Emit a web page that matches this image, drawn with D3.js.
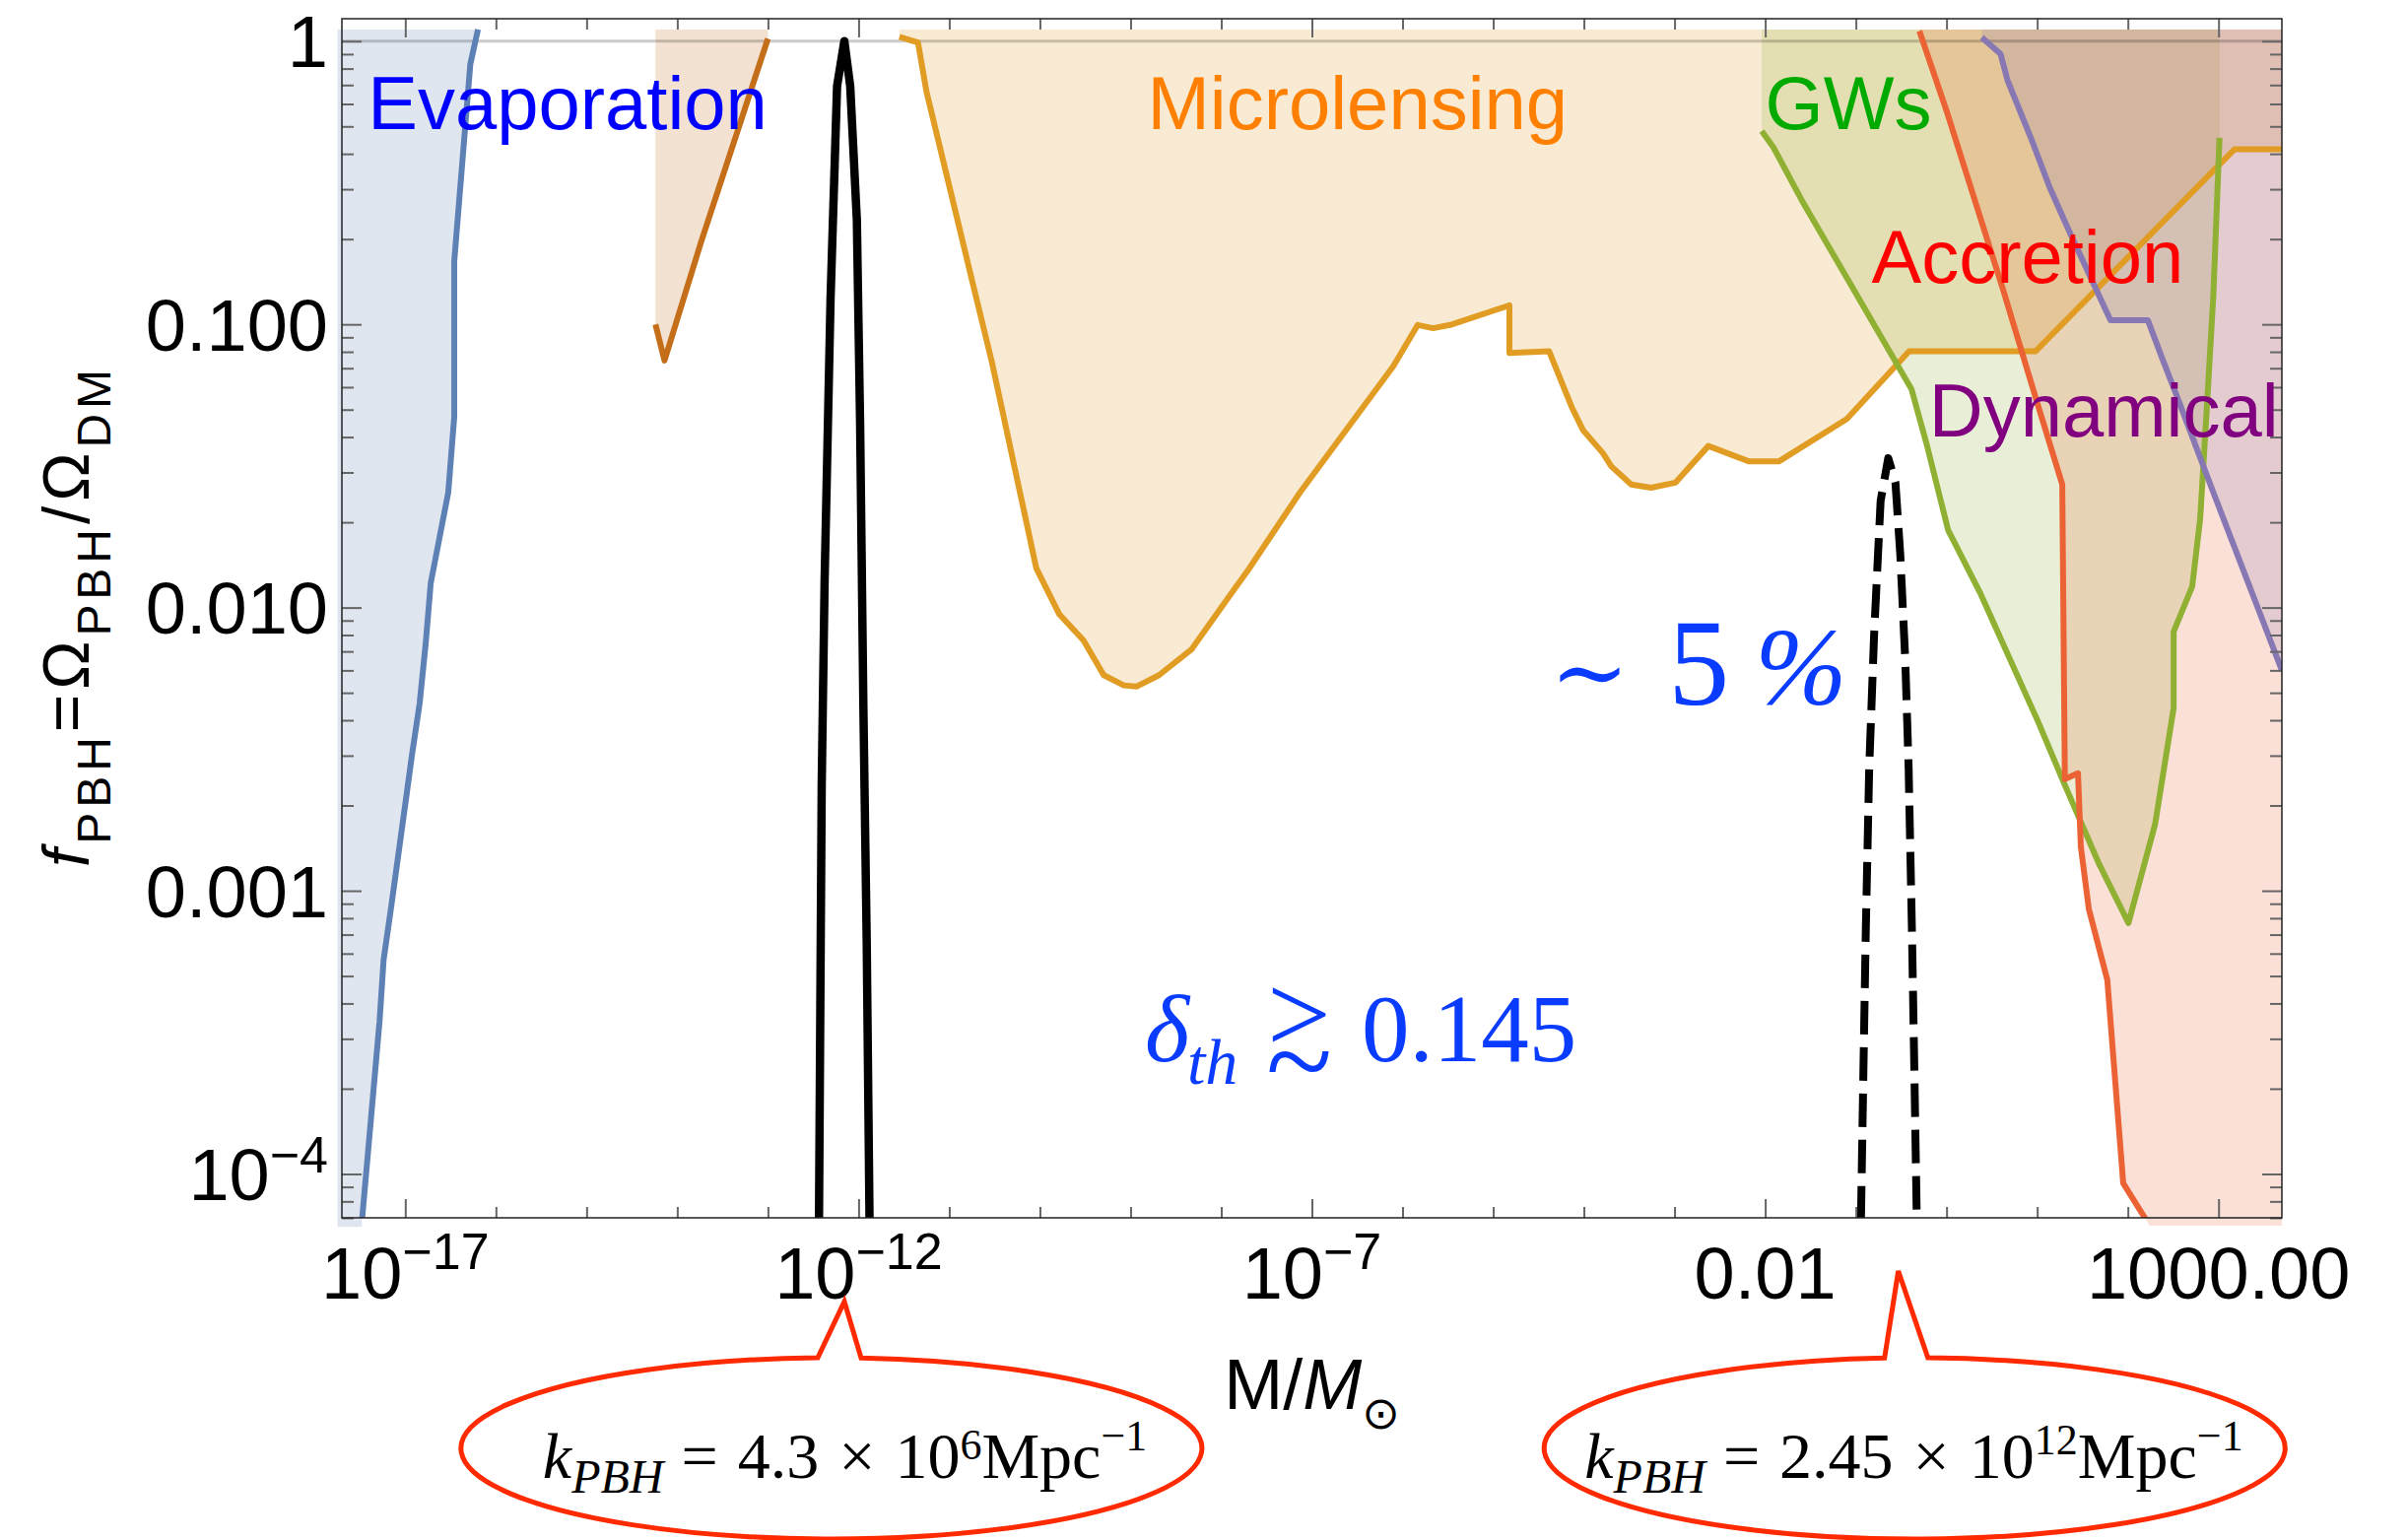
<!DOCTYPE html>
<html>
<head>
<meta charset="utf-8">
<title>PBH abundance constraints</title>
<script src="https://cdn.jsdelivr.net/npm/d3@7/dist/d3.min.js"></script>
<style>
  html, body { margin: 0; padding: 0; background: #ffffff; }
  svg { display: block; }
</style>
</head>
<body>
<svg id="chart" width="2444" height="1563"></svg>
<script>
// ---------------- data ----------------
// Axis ranges: PBH mass in solar masses, abundance f_PBH
const massDomain = [2e-18, 5e3];
const fDomain = [7e-5, 1.2];
// Extent of the shaded exclusion regions
const shadeTop = 1.1, shadeBottom = 6.5e-5, shadeLeft = 1.78e-18;

// Evaporation bound (from its lowest point upward)
const evaporationM = [3.32e-18, 5.21e-18, 5.77e-18, 7.05e-18, 1.00e-17, 1.19e-17, 1.44e-17, 1.68e-17, 1.91e-17, 2.98e-17, 3.47e-17, 3.47e-17, 5.22e-17, 6.34e-17];
const evaporationF = [6.76e-5, 3.47e-4, 5.70e-4, 8.93e-4, 2.02e-3, 3.04e-3, 4.58e-3, 7.46e-3, 1.22e-2, 2.55e-2, 4.72e-2, 0.167, 0.83, 1.1];

// Femtolensing-type bound near 1e-14
const femtoM = [5.75e-15, 7.24e-15, 1.82e-14, 1.0e-13];
const femtoF = [0.1, 0.0745, 0.194, 1.02];

// Microlensing bound
const microM = [2.82e-12, 4.52e-12, 5.61e-12, 1.07e-11, 1.77e-11, 2.94e-11, 6.03e-11, 9.12e-11, 1.64e-10, 3.03e-10, 5.06e-10, 8.43e-10, 1.16e-9, 2.06e-9, 4.73e-9, 1.40e-8, 1.93e-8, 7.40e-8, 7.93e-7, 1.47e-6, 2.17e-6, 3.34e-6, 1.51e-5, 1.51e-5, 4.14e-5, 7.35e-5, 9.79e-5, 1.62e-4, 2.01e-4, 3.33e-4, 5.50e-4, 1.02e-3, 2.36e-3, 6.65e-3, 1.41e-2, 7.94e-2, 0.387, 9.57, 1496, 5000];
const microF = [1.035, 0.99, 0.663, 0.282, 0.1445, 0.0741, 0.0255, 0.01377, 0.00946, 0.00765, 0.00577, 0.00531, 0.00526, 0.00577, 0.00713, 0.01164, 0.0134, 0.0255, 0.0713, 0.0995, 0.0969, 0.0995, 0.1167, 0.0793, 0.0803, 0.0510, 0.0423, 0.0351, 0.0315, 0.0272, 0.0265, 0.0276, 0.0372, 0.0328, 0.0328, 0.0463, 0.0803, 0.0803, 0.415, 0.415];

// Gravitational-wave bound
const gwM = [9.16e-3, 1.236e-2, 2.52e-2, 0.411, 0.607, 1.04, 2.33, 10.28, 18.9, 48.3, 101.6, 200, 320, 320, 513, 628, 759, 877, 1026];
const gwF = [0.481, 0.421, 0.275, 0.059, 0.0375, 0.0188, 0.01133, 0.00394, 0.00248, 0.00124, 7.69e-4, 0.00172, 0.00442, 0.00822, 0.01188, 0.0206, 0.0568, 0.1265, 0.456];

// Accretion bound
const accretionM = [0.502, 1.005, 4.18, 10.2, 18.9, 20.2, 28.2, 30.3, 37.1, 59.3, 88.9, 174.6];
const accretionF = [1.086, 0.565, 0.1334, 0.0518, 0.0272, 0.00248, 0.0026, 0.00143, 8.63e-4, 4.85e-4, 9.27e-5, 6.56e-5];

// Dynamical bound
const dynamicalM = [2.45, 3.94, 4.71, 8.51, 13.7, 22.1, 64.3, 166, 238, 340, 877, 5000];
const dynamicalF = [1.03, 0.901, 0.727, 0.456, 0.305, 0.216, 0.1035, 0.1035, 0.0762, 0.0568, 0.0255, 0.006];

// PBH mass functions
const massFnSolidM = [3.66e-13, 3.92e-13, 4.22e-13, 4.91e-13, 5.79e-13, 6.97e-13, 8.09e-13, 9.57e-13, 1.04e-12, 1.13e-12, 1.23e-12, 1.32e-12];
const massFnSolidF = [7e-5, 2.355e-3, 0.0124, 0.1236, 0.693, 1.0, 0.693, 0.2344, 0.0447, 4.46e-3, 6.56e-4, 7e-5];
const massFnDashedM = [0.1138, 0.1216, 0.1288, 0.1403, 0.159, 0.1875, 0.2275, 0.273, 0.309, 0.351, 0.382, 0.415, 0.44, 0.47];
const massFnDashedF = [6.9e-5, 2.49e-4, 7.36e-4, 2.71e-3, 8.04e-3, 0.0238, 0.0337, 0.0277, 0.0154, 6.47e-3, 2.71e-3, 7.36e-4, 2.49e-4, 6.9e-5];

// Ticks
const xMajorTicks = [1e-17, 1e-12, 1e-7, 1e-2, 1e3];
const xTickBase = ["10", "10", "10", "0.01", "1000.00"];
const xTickExp = ["\u221217", "\u221212", "\u22127", "", ""];
const yMajorTicks = [1, 0.1, 0.01, 0.001, 1e-4];
const yTickBase = ["1", "0.100", "0.010", "0.001", "10"];
const yTickExp = ["", "", "", "", "\u22124"];

// Region names and where they are written (data coordinates of the text start)
const regionNames = ["Evaporation", "Microlensing", "GWs", "Accretion", "Dynamical"];
const regionNameM = [3.86e-18, 1.53e-9, 0.01, 0.1486, 0.641];
const regionNameF = [0.49, 0.49, 0.49, 0.1407, 0.0402];
const regionNameColor = ["#0000ff", "#ff8000", "#00aa00", "#ff0000", "#800080"];

// Wavenumbers written in the two callouts
const calloutMantissa = ["4.3", "2.45"];
const calloutExponent = ["6", "12"];

// ---------------- layout ----------------
const SANS = "'Liberation Sans', Arial, Helvetica, sans-serif";
const SERIF = "'Liberation Serif', 'Times New Roman', Times, serif";
const plot = { left: 347, right: 2316, top: 19, bottom: 1236 };

const svg = d3.select("#chart");
svg.append("rect").attr("width", 2444).attr("height", 1563).attr("fill", "#ffffff");

const x = d3.scaleLog().domain(massDomain).range([plot.left, plot.right]);
const y = d3.scaleLog().domain(fDomain).range([plot.bottom, plot.top]);

const defs = svg.append("defs");
defs.append("clipPath").attr("id", "clip-plot").append("rect")
  .attr("x", plot.left).attr("y", plot.top)
  .attr("width", plot.right - plot.left).attr("height", plot.bottom - plot.top);
defs.append("clipPath").attr("id", "clip-shade").append("rect")
  .attr("x", x(shadeLeft)).attr("y", y(shadeTop))
  .attr("width", plot.right - x(shadeLeft)).attr("height", y(shadeBottom) - y(shadeTop));

const zip = (M, F) => M.map((m, i) => [m, F[i]]);
const line = d3.line().x(d => x(d[0])).y(d => y(d[1]));

const regions = [
  { M: evaporationM, F: evaporationF, color: "#5e81b5", close: "left" },
  { M: femtoM, F: femtoF, color: "#c56e1a", close: "top" },
  { M: microM, F: microF, color: "#e19c24", close: "top" },
  { M: gwM, F: gwF, color: "#8fb032", close: "top" },
  { M: accretionM, F: accretionF, color: "#eb6235", close: "right" },
  { M: dynamicalM, F: dynamicalF, color: "#8778b3", close: "top" }
];

function shadePolygon(r) {
  const pts = zip(r.M, r.F);
  const first = pts[0], last = pts[pts.length - 1];
  if (r.close === "left") {
    return [[shadeLeft, shadeBottom], [first[0], shadeBottom], ...pts, [last[0], shadeTop], [shadeLeft, shadeTop]];
  }
  if (r.close === "right") {
    return [...pts, [massDomain[1], last[1]], [massDomain[1], shadeTop], [first[0], shadeTop]];
  }
  return [...pts, [last[0], shadeTop], [first[0], shadeTop]];
}

// shaded exclusion regions
const shadeG = svg.append("g").attr("clip-path", "url(#clip-shade)");
regions.forEach(r => {
  shadeG.append("path")
    .attr("d", line(shadePolygon(r)) + "Z")
    .attr("fill", r.color).attr("fill-opacity", 0.2).attr("stroke", "none");
});

// f = 1 reference line
svg.append("line")
  .attr("x1", plot.left).attr("x2", plot.right)
  .attr("y1", y(1)).attr("y2", y(1))
  .attr("stroke", "#000").attr("stroke-opacity", 0.2).attr("stroke-width", 3);

// boundaries of the regions
const curveG = svg.append("g").attr("clip-path", "url(#clip-plot)");
regions.forEach(r => {
  curveG.append("path")
    .attr("d", line(zip(r.M, r.F)))
    .attr("fill", "none").attr("stroke", r.color)
    .attr("stroke-width", 6).attr("stroke-linejoin", "round");
});

// mass functions
curveG.append("path")
  .attr("d", line(zip(massFnSolidM, massFnSolidF)))
  .attr("fill", "none").attr("stroke", "#000").attr("stroke-width", 8.5)
  .attr("stroke-linejoin", "round");
curveG.append("path")
  .attr("d", line(zip(massFnDashedM, massFnDashedF)))
  .attr("fill", "none").attr("stroke", "#000").attr("stroke-width", 8)
  .attr("stroke-dasharray", "34,13").attr("stroke-linejoin", "round");

// ---------------- axes ----------------
const isMajor = (v, majors) => majors.some(t => Math.abs(Math.log10(t) - Math.log10(v)) < 1e-6);
const xMinor = d3.range(-17, 4).map(e => Math.pow(10, e)).filter(v => !isMajor(v, xMajorTicks));
const yMinor = y.ticks().filter(v => !isMajor(v, yMajorTicks));

function styleTicks(g) {
  g.select(".domain").remove();
  g.selectAll("text").remove();
  g.selectAll(".tick line").attr("stroke", "#666").attr("stroke-width", 2);
}
const axisG = svg.append("g");
[[d3.axisBottom, plot.bottom], [d3.axisTop, plot.top]].forEach(([mk, pos]) => {
  axisG.append("g").attr("transform", `translate(0,${pos})`)
    .call(mk(x).tickValues(xMinor).tickSize(-11).tickFormat(() => "")).call(styleTicks);
  axisG.append("g").attr("transform", `translate(0,${pos})`)
    .call(mk(x).tickValues(xMajorTicks).tickSize(-19).tickFormat(() => "")).call(styleTicks);
});
[[d3.axisLeft, plot.left], [d3.axisRight, plot.right]].forEach(([mk, pos]) => {
  axisG.append("g").attr("transform", `translate(${pos},0)`)
    .call(mk(y).tickValues(yMinor).tickSize(-12).tickFormat(() => "")).call(styleTicks);
  axisG.append("g").attr("transform", `translate(${pos},0)`)
    .call(mk(y).tickValues(yMajorTicks).tickSize(-20).tickFormat(() => "")).call(styleTicks);
});

svg.append("rect")
  .attr("x", plot.left).attr("y", plot.top)
  .attr("width", plot.right - plot.left).attr("height", plot.bottom - plot.top)
  .attr("fill", "none").attr("stroke", "#222").attr("stroke-width", 1.5);

// tick labels
const tickLabelG = svg.append("g").attr("font-family", SANS).attr("font-size", 74).attr("fill", "#000");
xMajorTicks.forEach((v, i) => {
  const t = tickLabelG.append("text").attr("x", x(v)).attr("y", plot.bottom + 82).attr("text-anchor", "middle");
  t.append("tspan").text(xTickBase[i]);
  if (xTickExp[i]) t.append("tspan").attr("font-size", 52).attr("dy", -30).text(xTickExp[i]);
});
yMajorTicks.forEach((v, i) => {
  const t = tickLabelG.append("text").attr("x", plot.left - 14).attr("y", y(v) + 26.5).attr("text-anchor", "end");
  t.append("tspan").text(yTickBase[i]);
  if (yTickExp[i]) t.append("tspan").attr("font-size", 52).attr("dy", -28).text(yTickExp[i]);
});

// axis titles
const yTitle = svg.append("text")
  .attr("transform", `translate(90,${(plot.top + plot.bottom) / 2}) rotate(-90)`)
  .attr("text-anchor", "middle").attr("font-family", SANS).attr("font-size", 66).attr("fill", "#000")
  .attr("textLength", 505).attr("lengthAdjust", "spacing");
[["f", null, 0, "italic"], ["PBH", 48, 22], ["=", null, -22], ["\u03A9", null, 0], ["PBH", 48, 22],
 ["/", null, -22], ["\u03A9", null, 0], ["DM", 48, 22]].forEach(([txt, size, dy, style]) => {
  yTitle.append("tspan").attr("font-size", size).attr("dy", dy).attr("font-style", style || null).text(txt);
});

const xTitle = svg.append("text")
  .attr("x", (plot.left + plot.right) / 2).attr("y", 1430)
  .attr("text-anchor", "middle").attr("font-family", SANS).attr("font-size", 72).attr("fill", "#000");
xTitle.append("tspan").text("M/");
xTitle.append("tspan").attr("font-style", "italic").text("M");
xTitle.append("tspan").attr("font-family", "'DejaVu Sans', sans-serif").attr("font-size", 46).attr("dy", 20).text("\u2299");

// region names
regionNames.forEach((name, i) => {
  svg.append("text")
    .attr("x", x(regionNameM[i])).attr("y", y(regionNameF[i]))
    .attr("font-family", SANS).attr("font-size", 76).attr("fill", regionNameColor[i])
    .text(name);
});

// serif annotations, each piece placed at an offset from the anchor
function richText(x0, y0, pieces, base) {
  const t = svg.append("text").attr("font-family", base.family).attr("font-size", base.size).attr("fill", base.fill);
  pieces.forEach(p => {
    t.append("tspan")
      .attr("x", x0 + p.dx).attr("y", y0 + (p.dy || 0))
      .attr("font-size", p.size || null)
      .attr("font-style", p.italic ? "italic" : null)
      .attr("font-family", p.family || null)
      .text(p.text);
  });
  return t;
}
const annBlue = "#0a3cff";
richText(x(4.45e-5), y(4.545e-3), [
  { text: "\u223C", dx: -2, size: 96, family: "'DejaVu Serif', serif" },
  { text: "5", dx: 118 },
  { text: "%", dx: 206, italic: true, size: 112 }
], { family: SERIF, size: 124, fill: annBlue });

// "greater than or of order": a ">" stacked over a "~"
richText(x(1.436e-9), y(2.51e-4), [
  { text: "\u03B4", dx: 0, italic: true },
  { text: "th", dx: 43, dy: 23, size: 66, italic: true },
  { text: ">", dx: 124, dy: -9, size: 115 },
  { text: "~", dx: 123, dy: 42, size: 124 },
  { text: "0.145", dx: 220 }
], { family: SERIF, size: 97, fill: annBlue });

// speech-bubble callouts pointing at the two mass-function peaks
const callouts = [
  { centerM: 5.02e-13, tipM: massFnSolidM[5], tipY: 1321, base: [-27, 17], textStart: -293, supDy: 19 },
  { centerM: 0.445, tipM: 0.294, tipY: 1290, base: [-14, 30], textStart: -335, supDy: 24 }
];
const bubbleCY = 1470, bubbleRX = 376, bubbleRY = 92;
callouts.forEach((c, i) => {
  const cx = x(c.centerM), tipX = x(c.tipM);
  const bx1 = tipX + c.base[0], bx2 = tipX + c.base[1];
  const yOn = bx => bubbleCY - bubbleRY * Math.sqrt(1 - Math.pow((bx - cx) / bubbleRX, 2));
  const d = `M${bx2},${yOn(bx2)} A${bubbleRX},${bubbleRY} 0 1 1 ${bx1},${yOn(bx1)} L${tipX},${c.tipY} Z`;
  svg.append("path").attr("d", d)
    .attr("fill", "#fff").attr("stroke", "#ff2a00").attr("stroke-width", 5).attr("stroke-linejoin", "miter");

  const t = svg.append("text")
    .attr("x", cx + c.textStart).attr("y", bubbleCY + 30)
    .attr("font-family", SERIF).attr("font-size", 66).attr("fill", "#000");
  t.append("tspan").attr("font-style", "italic").text("k");
  t.append("tspan").attr("font-style", "italic").attr("font-size", 48).attr("dy", 15).text("PBH");
  t.append("tspan").attr("dx", 18).attr("dy", -15).text("=");
  t.append("tspan").attr("dx", 20).text(calloutMantissa[i]);
  t.append("tspan").attr("dx", 20).text("\u00D7");
  t.append("tspan").attr("dx", 20).text("10");
  t.append("tspan").attr("font-size", 44).attr("dy", -c.supDy).text(calloutExponent[i]);
  t.append("tspan").attr("dy", c.supDy).text("Mpc");
  t.append("tspan").attr("font-size", 44).attr("dy", -28).text("\u22121");
});
</script>
</body>
</html>
